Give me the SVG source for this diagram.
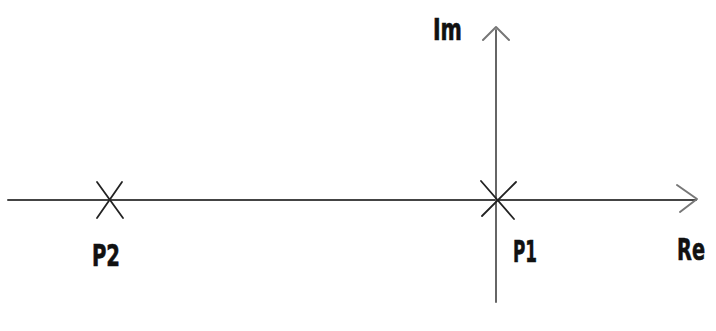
<svg xmlns="http://www.w3.org/2000/svg" width="716" height="331" viewBox="0 0 716 331">
<style>
.ax{stroke:#444;stroke-width:2;fill:none;stroke-linecap:round;stroke-linejoin:round}
.hd{stroke:#777;stroke-width:2;fill:none;stroke-linecap:round;stroke-linejoin:round}
.pole{stroke:#222;stroke-width:1.8;fill:none;stroke-linecap:round}
.lbl{font-family:"DejaVu Sans Condensed","DejaVu Sans","Liberation Sans",sans-serif;font-stretch:condensed;font-weight:bold;font-size:30px;fill:#111;stroke:#111;stroke-width:0.6}
</style>
<rect width="716" height="331" fill="#fff"/>
<g id="connectors">
<line class="ax" x1="8" y1="200" x2="696" y2="200"/>
<polyline class="hd" points="677,185 697,199 680,212"/>
<line class="ax" x1="496" y1="30" x2="496" y2="302" style="stroke:#666"/>
<polyline class="hd" points="483,40 496,27 509,40"/>
</g>
<g id="P2">
<line class="pole" x1="97" y1="182" x2="123" y2="218"/>
<line class="pole" x1="122" y1="182" x2="97" y2="218"/>
<text class="lbl" x="92" y="266" textLength="28" lengthAdjust="spacingAndGlyphs">P2</text>
</g>
<g id="P1">
<line class="pole" x1="481" y1="181" x2="514" y2="219"/>
<line class="pole" x1="516" y1="182" x2="482" y2="216"/>
<text class="lbl" x="513" y="262" textLength="24" lengthAdjust="spacingAndGlyphs">P1</text>
</g>
<g id="Re">
<text class="lbl" x="677" y="260" textLength="28" lengthAdjust="spacingAndGlyphs">Re</text>
</g>
<g id="Im">
<text class="lbl" x="433" y="40" textLength="29" lengthAdjust="spacingAndGlyphs">Im</text>
</g>
</svg>
